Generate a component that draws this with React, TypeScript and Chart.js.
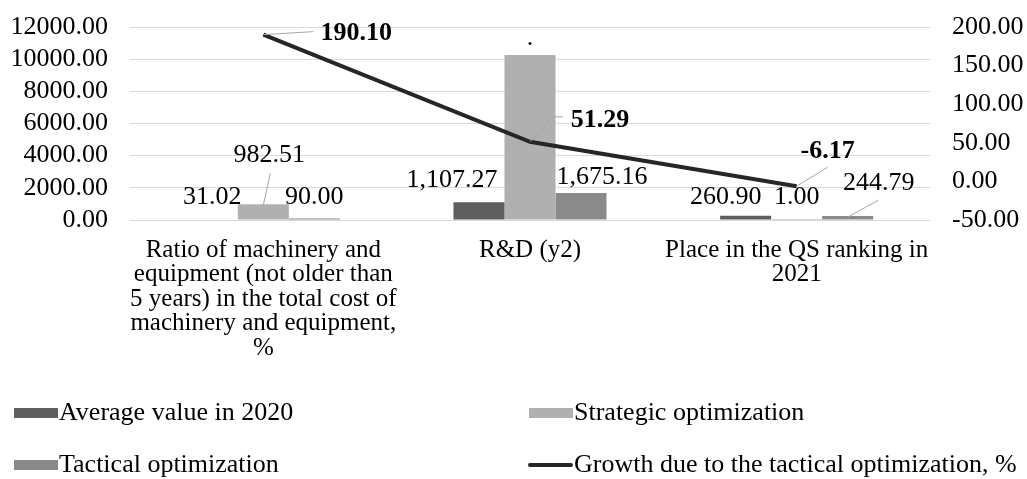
import React, { useEffect, useRef } from "react";
import { Chart, registerables } from "chart.js";

Chart.register(...registerables);

const categories: string[][] = [
  ["Ratio of machinery and", "equipment (not older than", "5 years) in the total cost of", "machinery and equipment,", "%"],
  ["R&D (y2)"],
  ["Place in the QS ranking in", "2021"],
];
const averageValues = [31.02, 1107.27, 260.9];
const strategicValues = [982.51, 10260, 1.0];
const tacticalValues = [90.0, 1675.16, 244.79];
const growthValues = [190.1, 51.29, -6.17];

const averageLabels = ["31.02", "1,107.27", "260.90"];
const strategicLabels = ["982.51", ".", "1.00"];
const tacticalLabels = ["90.00", "1,675.16", "244.79"];
const growthLabels = ["190.10", "51.29", "-6.17"];

const seriesNames = [
  "Average value in 2020",
  "Strategic optimization",
  "Tactical optimization",
  "Growth due to the tactical optimization, %",
];

const FONT = "'Liberation Serif', 'Times New Roman', serif";

// label placement: offsets relative to element anchor
type Place = { dx: number; dy: number; leader?: number[][] };
const labelPlaces: Place[][] = [
  [{ dx: 0, dy: -22 }, { dx: -27, dy: -22 }, { dx: -20, dy: -19 }],
  [{ dx: 6, dy: -49, leader: [[0, 1], [7, -31]] }, { dx: 0, dy: -17 }, { dx: 0, dy: -23 }],
  [{ dx: 0, dy: -21 }, { dx: 21, dy: -16 }, { dx: 31, dy: -33, leader: [[0, 1], [31, -16]] }],
  [
    { dx: 93, dy: -1, leader: [[0, 0], [50, -3]] },
    { dx: 70, dy: -22, leader: [[0, 0], [23, -25], [33, -25]] },
    { dx: 31, dy: -35, leader: [[0, 0], [31, -19]] },
  ],
];

const labelPlugin = {
  id: "customLabels",
  afterDatasetsDraw(chart: any) {
    const ctx = chart.ctx;
    const texts = [averageLabels, strategicLabels, tacticalLabels, growthLabels];
    ctx.save();
    for (let d = 0; d < 4; d++) {
      const meta = chart.getDatasetMeta(d);
      meta.data.forEach((el: any, i: number) => {
        const p = labelPlaces[d][i];
        const x = el.x;
        const y = el.y;
        if (p.leader) {
          ctx.strokeStyle = "#a6a6a6";
          ctx.lineWidth = 1;
          ctx.beginPath();
          p.leader.forEach((pt, k) => {
            if (k === 0) ctx.moveTo(x + pt[0], y + pt[1]);
            else ctx.lineTo(x + pt[0], y + pt[1]);
          });
          ctx.stroke();
        }
        ctx.fillStyle = "#000";
        ctx.textAlign = "center";
        ctx.textBaseline = "middle";
        ctx.font = (d === 3 ? "bold " : "") + "26px " + FONT;
        ctx.fillText(texts[d][i], x + p.dx, y + p.dy);
      });
    }
    ctx.restore();
  },
};

const legendPlugin = {
  id: "customLegend",
  afterDraw(chart: any) {
    const ctx = chart.ctx;
    const ds = chart.data.datasets;
    const spots = [
      [14, 413],
      [529, 413],
      [14, 465],
      [529, 465],
    ];
    ctx.save();
    ds.forEach((d: any, i: number) => {
      const [x, y] = spots[i];
      if (d.type === "line") {
        ctx.strokeStyle = d.borderColor;
        ctx.lineWidth = 4;
        ctx.lineCap = "round";
        ctx.beginPath();
        ctx.moveTo(x + 1, y);
        ctx.lineTo(x + 42, y);
        ctx.stroke();
      } else {
        ctx.fillStyle = d.backgroundColor;
        ctx.fillRect(x, y - 5, 44, 10);
      }
      ctx.fillStyle = "#000";
      ctx.font = "26px " + FONT;
      ctx.textAlign = "left";
      ctx.textBaseline = "middle";
      ctx.fillText(d.label, x + 45, y);
    });
    ctx.restore();
  },
};

const zeroPad = (s: any) => {
  s.paddingTop = 0;
  s.paddingBottom = 0;
  s.paddingLeft = 0;
  s.paddingRight = 0;
};

export default function App() {
  const ref = useRef<HTMLCanvasElement>(null);
  useEffect(() => {
    if (!ref.current) return;
    const chart = new Chart(ref.current, {
      data: {
        labels: categories,
        datasets: [
          {
            type: "bar",
            label: seriesNames[0],
            data: averageValues,
            backgroundColor: "#5e5e5e",
            yAxisID: "y",
            order: 1,
          },
          {
            type: "bar",
            label: seriesNames[1],
            data: strategicValues,
            backgroundColor: "#b0b0b0",
            yAxisID: "y",
            order: 1,
          },
          {
            type: "bar",
            label: seriesNames[2],
            data: tacticalValues,
            backgroundColor: "#8a8a8a",
            yAxisID: "y",
            order: 1,
          },
          {
            type: "line",
            label: seriesNames[3],
            data: growthValues,
            borderColor: "#262626",
            backgroundColor: "#262626",
            borderWidth: 4,
            pointRadius: 0,
            tension: 0,
            yAxisID: "y1",
            order: 0,
          },
        ],
      } as any,
      options: {
        responsive: false,
        animation: false,
        devicePixelRatio: 1,
        layout: { padding: { top: 27, left: 0, right: 0, bottom: 0 } },
        datasets: { bar: { categoryPercentage: 0.574, barPercentage: 1 } },
        plugins: { legend: { display: false }, tooltip: { enabled: false } },
        scales: {
          x: {
            grid: { display: false },
            border: { display: false },
            ticks: {
              color: "#000",
              font: { family: FONT, size: 25, lineHeight: 0.98 },
              padding: 10,
              maxRotation: 0,
              autoSkip: false,
            },
            afterFit: (s: any) => {
              s.height = 259;
              zeroPad(s);
            },
          },
          y: {
            position: "left",
            min: 0,
            max: 12000,
            grid: { color: "#d9d9d9", lineWidth: 1, drawTicks: false },
            border: { display: false },
            ticks: {
              stepSize: 2000,
              autoSkip: false,
              color: "#000",
              font: { family: FONT, size: 26 },
              padding: 22,
              callback: (v: any) => Number(v).toFixed(2),
            },
            afterFit: (s: any) => {
              s.width = 130;
              zeroPad(s);
            },
          },
          y1: {
            position: "right",
            min: -50,
            max: 200,
            grid: { display: false, drawTicks: false },
            border: { display: false },
            ticks: {
              stepSize: 50,
              autoSkip: false,
              color: "#000",
              font: { family: FONT, size: 26 },
              padding: 22,
              callback: (v: any) => Number(v).toFixed(2),
            },
            afterFit: (s: any) => {
              s.width = 97;
              zeroPad(s);
            },
          },
        },
      } as any,
      plugins: [labelPlugin, legendPlugin],
    });
    return () => chart.destroy();
  }, []);
  return (
    <div style={{ position: "absolute", left: 0, top: 0, width: 1027, height: 479, background: "#fff" }}>
      <canvas ref={ref} width={1027} height={479} style={{ width: 1027, height: 479 }} />
    </div>
  );
}
